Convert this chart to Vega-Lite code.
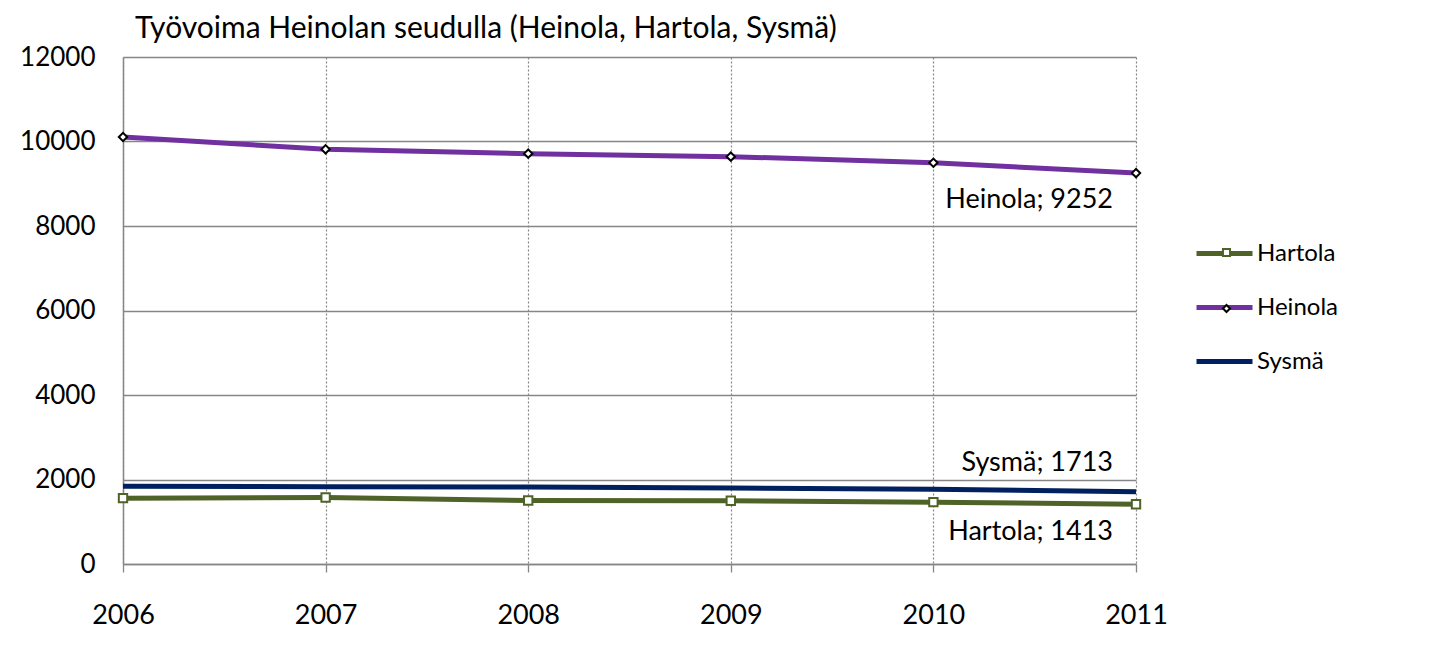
{
  "$schema": "https://vega.github.io/schema/vega-lite/v6.json",
  "width": 1013,
  "height": 507,
  "autosize": "none",
  "padding": {"left": 123, "top": 57, "right": 309, "bottom": 83},
  "background": "white",
  "config": {
    "view": {"stroke": null},
    "font": "Lato"
  },
  "title": {
    "text": "Työvoima Heinolan seudulla (Heinola, Hartola, Sysmä)",
    "anchor": "start",
    "frame": "group",
    "dx": 12,
    "dy": 41,
    "offset": 17,
    "baseline": "alphabetic",
    "font": "Lato",
    "fontSize": 30,
    "fontWeight": "normal",
    "color": "black"
  },
  "data": {
    "values": [
      {"series": "Hartola", "year": 2006, "value": 1558},
      {"series": "Hartola", "year": 2007, "value": 1575},
      {"series": "Hartola", "year": 2008, "value": 1504},
      {"series": "Hartola", "year": 2009, "value": 1498},
      {"series": "Hartola", "year": 2010, "value": 1464},
      {"series": "Hartola", "year": 2011, "value": 1413},
      {"series": "Heinola", "year": 2006, "value": 10106},
      {"series": "Heinola", "year": 2007, "value": 9815},
      {"series": "Heinola", "year": 2008, "value": 9713},
      {"series": "Heinola", "year": 2009, "value": 9642},
      {"series": "Heinola", "year": 2010, "value": 9497},
      {"series": "Heinola", "year": 2011, "value": 9252},
      {"series": "Sysmä", "year": 2006, "value": 1842},
      {"series": "Sysmä", "year": 2007, "value": 1830},
      {"series": "Sysmä", "year": 2008, "value": 1820},
      {"series": "Sysmä", "year": 2009, "value": 1798},
      {"series": "Sysmä", "year": 2010, "value": 1772},
      {"series": "Sysmä", "year": 2011, "value": 1713}
    ]
  },
  "encoding": {
    "x": {
      "field": "year",
      "type": "ordinal",
      "scale": {"type": "point", "padding": 0},
      "axis": {
        "title": null,
        "labelAngle": 0,
        "labelFont": "Lato",
        "labelFontSize": 27,
        "labelColor": "black",
        "labelPadding": 30,
        "tickSize": 8,
        "tickColor": "#868686",
        "tickWidth": 1.3,
        "domainColor": "#868686",
        "domainWidth": 1.3,
        "grid": true,
        "gridDash": [2, 2],
        "gridColor": "#858585",
        "gridWidth": 1.2
      }
    },
    "y": {
      "field": "value",
      "type": "quantitative",
      "scale": {"domain": [0, 12000], "nice": false},
      "axis": {
        "title": null,
        "values": [0, 2000, 4000, 6000, 8000, 10000, 12000],
        "format": "d",
        "ticks": false,
        "labelFont": "Lato",
        "labelFontSize": 26,
        "labelColor": "black",
        "labelPadding": 28,
        "domainColor": "#868686",
        "domainWidth": 1.5,
        "grid": true,
        "gridColor": "#868686",
        "gridWidth": 1.3
      }
    }
  },
  "layer": [
    {
      "mark": {"type": "line", "strokeWidth": 5, "strokeJoin": "round"},
      "encoding": {
        "color": {
          "field": "series",
          "type": "nominal",
          "scale": {"domain": ["Hartola", "Heinola", "Sysmä"], "range": ["#4F6228", "#7030A0", "#002060"]},
          "legend": {
            "orient": "none",
            "direction": "vertical",
            "columns": 1,
            "legendX": 1071,
            "legendY": 166,
            "title": null,
            "padding": 0,
            "symbolType": "stroke",
            "symbolSize": 3136,
            "symbolStrokeWidth": 5,
            "labelFont": "Lato",
            "labelFontSize": 24,
            "labelColor": "black",
            "labelOffset": 2,
            "rowPadding": 11
          }
        }
      }
    },
    {
      "transform": [{"filter": "datum.series !== 'Sysmä'"}],
      "mark": {"type": "point", "filled": true, "fill": "white", "strokeWidth": 2, "size": 70, "opacity": 1},
      "encoding": {
        "shape": {
          "field": "series",
          "type": "nominal",
          "scale": {"domain": ["Hartola", "Heinola"], "range": ["square", "diamond"]},
          "legend": {
            "orient": "none",
            "direction": "vertical",
            "columns": 1,
            "legendX": 1092,
            "legendY": 184,
            "title": null,
            "padding": 0,
            "symbolFillColor": "white",
            "symbolStrokeWidth": 2,
            "symbolSize": 50,
            "labelFont": "Lato",
            "labelFontSize": 23,
            "labelExpr": "''",
            "rowPadding": 32
          }
        },
        "stroke": {
          "field": "series",
          "type": "nominal",
          "scale": {"domain": ["Hartola", "Heinola"], "range": ["#4F6228", "#000000"]},
          "legend": {
            "orient": "none",
            "direction": "vertical",
            "columns": 1,
            "legendX": 1092,
            "legendY": 184,
            "title": null,
            "padding": 0,
            "symbolFillColor": "white",
            "symbolStrokeWidth": 2,
            "symbolSize": 50,
            "labelFont": "Lato",
            "labelFontSize": 23,
            "labelExpr": "''",
            "rowPadding": 32
          }
        }
      }
    },
    {
      "transform": [
        {"filter": "datum.year === 2011 && datum.series === 'Heinola'"},
        {"calculate": "datum.series + '; ' + datum.value", "as": "label"}
      ],
      "mark": {"type": "text", "align": "right", "baseline": "middle", "dx": -23, "dy": 27, "font": "Lato", "fontSize": 27, "color": "black"},
      "encoding": {"text": {"field": "label"}}
    },
    {
      "transform": [
        {"filter": "datum.year === 2011 && datum.series === 'Sysmä'"},
        {"calculate": "datum.series + '; ' + datum.value", "as": "label"}
      ],
      "mark": {"type": "text", "align": "right", "baseline": "middle", "dx": -23, "dy": -29, "font": "Lato", "fontSize": 27, "color": "black"},
      "encoding": {"text": {"field": "label"}}
    },
    {
      "transform": [
        {"filter": "datum.year === 2011 && datum.series === 'Hartola'"},
        {"calculate": "datum.series + '; ' + datum.value", "as": "label"}
      ],
      "mark": {"type": "text", "align": "right", "baseline": "middle", "dx": -23, "dy": 28, "font": "Lato", "fontSize": 27, "color": "black"},
      "encoding": {"text": {"field": "label"}}
    }
  ]
}
